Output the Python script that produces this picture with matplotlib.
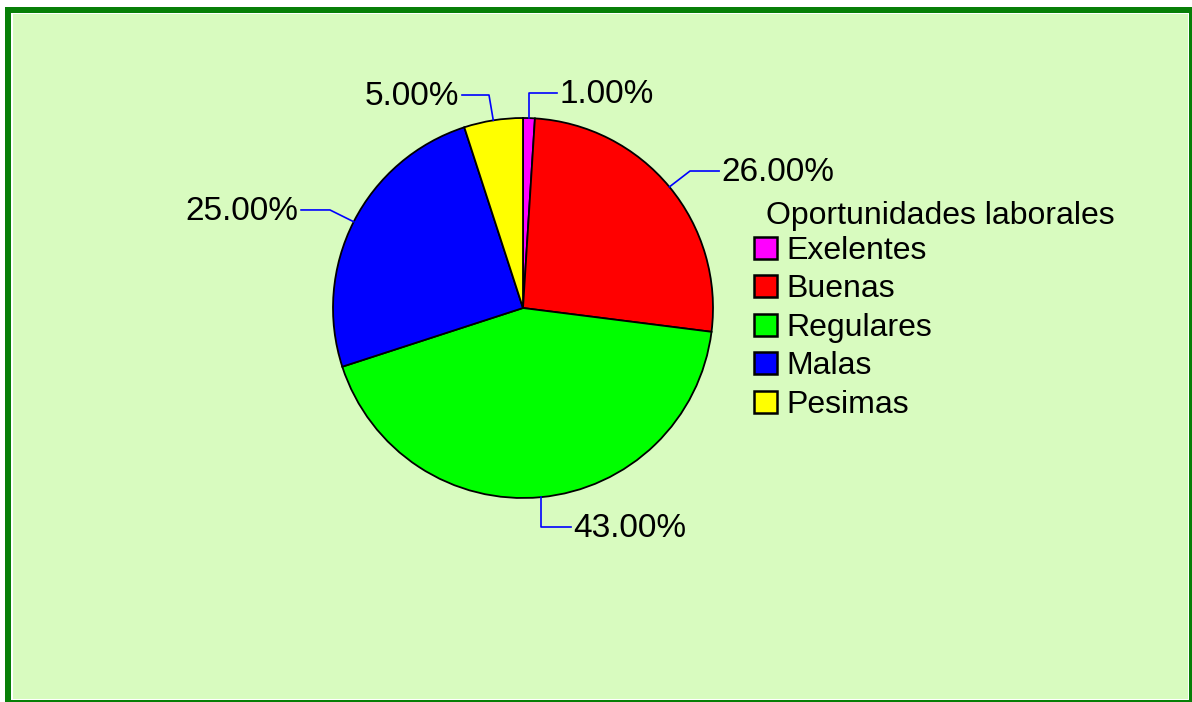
import matplotlib
matplotlib.use("Agg")
import matplotlib.pyplot as plt
from matplotlib.patches import Rectangle
import numpy as np

plt.rcParams['font.family'] = ['Liberation Sans', 'DejaVu Sans']

# datos
categorias = ["Exelentes", "Buenas", "Regulares", "Malas", "Pesimas"]
porcentajes = [1.0, 26.0, 43.0, 25.0, 5.0]
colores = ["#ff00ff", "#ff0000", "#00ff00", "#0000ff", "#ffff00"]
titulo_leyenda = "Oportunidades laborales"

# codo y fin de la linea guia de cada etiqueta (coordenadas del pie)
codos = [(None, 1.132), (0.879, 0.721), (None, -1.153), (-1.016, 0.516), (-0.179, 1.121)]
fines = [0.179, 1.032, 0.253, -1.168, -0.321]

W, H = 1192, 702
fig = plt.figure(figsize=(W / 100, H / 100), dpi=100, facecolor="white")

def px_rect(x, y, w, h, color):
    # x, y desde la esquina inferior izquierda, en pixeles
    r = Rectangle((x / W, y / H), w / W, h / H, transform=fig.transFigure,
                  facecolor=color, edgecolor="none", zorder=-10)
    fig.patches.append(r)

px_rect(5, -10, 1200, 705, "#077f07")
px_rect(11, 2, 1178, 687, "white")
px_rect(13, 3, 1175, 685, "#d8fbbf")

# pie centrado en (523, 308) con radio 190 px
cx, cy, rad = 523, 308, 190
ax = fig.add_axes([(cx - rad) / W, (H - cy - rad) / H, 2 * rad / W, 2 * rad / H])
ax.set_facecolor("none")
wedges, _ = ax.pie(porcentajes, colors=colores, startangle=90, counterclock=False,
                   radius=1.0, wedgeprops=dict(edgecolor="black", linewidth=1.3))
ax.set_xlim(-1, 1)
ax.set_ylim(-1, 1)
ax.set_aspect("equal")
ax.axis("off")

for w, p, codo, fin in zip(wedges, porcentajes, codos, fines):
    ang = np.deg2rad((w.theta1 + w.theta2) / 2)
    x0, y0 = np.cos(ang), np.sin(ang)
    ex = x0 if codo[0] is None else codo[0]
    ey = codo[1]
    ax.plot([x0, ex, fin], [y0, ey, ey], color="#0000ff", lw=1.2, clip_on=False)
    if fin > ex:
        ax.text(fin + 0.012, ey - 0.008, f"{p:.2f}%", ha="left", va="center", fontsize=24)
    else:
        ax.text(fin - 0.015, ey - 0.008, f"{p:.2f}%", ha="right", va="center", fontsize=24)

fig.text(766 / W, 1 - 216 / H, titulo_leyenda, ha="left", va="center", fontsize=23)
leg = fig.legend(wedges, categorias, loc="upper left",
                 bbox_to_anchor=(754 / W, 1 - 236 / H), bbox_transform=fig.transFigure,
                 frameon=False, fontsize=23, borderpad=0, borderaxespad=0,
                 handlelength=0.72, handleheight=0.69, handletextpad=0.28,
                 labelspacing=0.265)
for h in leg.legend_handles:
    h.set_linewidth(1.8)

fig.savefig("out.png", dpi=100, facecolor="white")
